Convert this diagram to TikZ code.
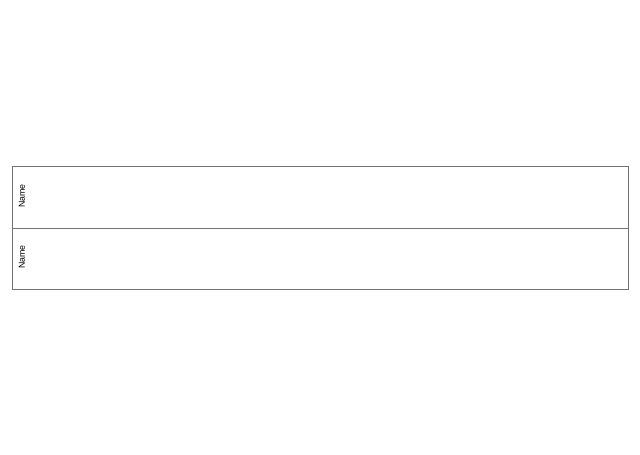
\documentclass[tikz,border=0pt]{standalone}
\usepackage{fontspec}
\setmainfont{Liberation Sans}
\begin{document}
\begin{tikzpicture}[x=1pt,y=-1pt,
  lane/.style={draw=black!55,line width=0.8pt,fill=white},
  lanelabel/.style={rotate=90,font=\fontsize{8.8}{10}\selectfont,inner sep=0pt,text=black}]
\useasboundingbox (0,0) rectangle (640,455);
\node[lane,minimum width=616pt,minimum height=62pt,anchor=north west,inner sep=0pt] (lane1) at (12,166) {};
\node[lane,minimum width=616pt,minimum height=61pt,anchor=north west,inner sep=0pt] (lane2) at (12,228) {};
\node[lanelabel] (n1) at (22,196) {Name};
\node[lanelabel] (n2) at (22,257) {Name};
\end{tikzpicture}
\end{document}
